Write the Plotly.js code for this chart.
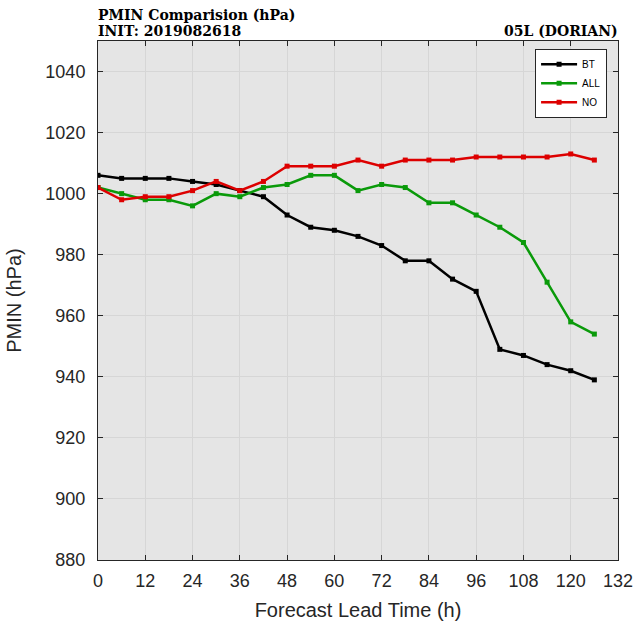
<!DOCTYPE html>
<html>
<head>
<meta charset="utf-8">
<script src="https://cdn.plot.ly/plotly-3.0.1.min.js"></script>
<style>html,body{margin:0;padding:0;background:#fff;}#chart{width:634px;height:627px;}</style>
</head>
<body>
<div id="chart"></div>
<script>
var leadTime = [0,6,12,18,24,30,36,42,48,54,60,66,72,78,84,90,96,102,108,114,120,126];
var bt  = [1006,1005,1005,1005,1004,1003,1001,999,993,989,988,986,983,978,978,972,968,949,947,944,942,939];
var all = [1002,1000,998,998,996,1000,999,1002,1003,1006,1006,1001,1003,1002,997,997,993,989,984,971,958,954];
var no  = [1002,998,999,999,1001,1004,1001,1004,1009,1009,1009,1011,1009,1011,1011,1011,1012,1012,1012,1012,1013,1011];
var seriesNames = ["BT","ALL","NO"];
var xTicks = [0,12,24,36,48,60,72,84,96,108,120,132];
var yTicks = [880,900,920,940,960,980,1000,1020,1040];

function tr(y, name, color){
  return {x: leadTime, y: y, name: name, type: 'scatter', mode: 'lines+markers',
    line: {color: color, width: 2.5}, marker: {color: color, size: 5, symbol: 'square'}};
}
var data = [tr(bt, seriesNames[0], '#000000'), tr(all, seriesNames[1], '#0a9a0a'), tr(no, seriesNames[2], '#dd0000')];

var sans = 'Liberation Sans, Arial, sans-serif';
var serif = 'DejaVu Serif, Liberation Serif, serif';
var axisFont = {family: sans, size: 18, color: '#262626'};
var layout = {
  width: 634, height: 627,
  margin: {l: 98, r: 16, t: 41, b: 67},
  paper_bgcolor: '#ffffff', plot_bgcolor: '#e5e5e5',
  showlegend: true,
  legend: {x: 0.979, xanchor: 'right', y: 0.985, yanchor: 'top', bgcolor: '#ffffff', bordercolor: '#262626', borderwidth: 1,
    font: {family: sans, size: 10, color: '#000'}, tracegroupgap: 0, itemwidth: 36},
  xaxis: {range: [0,132], tickvals: xTicks, ticktext: xTicks.map(String), ticks: 'inside', ticklen: 5, tickcolor: '#262626',
    showline: true, linecolor: '#262626', linewidth: 1, mirror: 'ticks', showgrid: true, gridcolor: '#d6d6d6', gridwidth: 1,
    zeroline: false, tickfont: axisFont, ticklabelstandoff: 4,
    title: {text: 'Forecast Lead Time (h)', font: {family: sans, size: 20, color: '#262626'}, standoff: 13}},
  yaxis: {range: [880,1050], tickvals: yTicks, ticktext: yTicks.map(String), ticks: 'inside', ticklen: 5, tickcolor: '#262626',
    showline: true, linecolor: '#262626', linewidth: 1, mirror: 'ticks', showgrid: true, gridcolor: '#d6d6d6', gridwidth: 1,
    zeroline: false, tickfont: axisFont, ticklabelstandoff: 8,
    title: {text: 'PMIN (hPa)', font: {family: sans, size: 20, color: '#262626'}, standoff: 18}},
  annotations: [
    {text: '<b>PMIN Comparision (hPa)</b>', xref: 'paper', yref: 'paper', x: 0, y: 1, xanchor: 'left', yanchor: 'bottom', yshift: 16, xshift: -2,
     showarrow: false, font: {family: serif, size: 14, color: '#000'}},
    {text: '<b>INIT: 2019082618</b>', xref: 'paper', yref: 'paper', x: 0, y: 1, xanchor: 'left', yanchor: 'bottom', yshift: 0, xshift: -2,
     showarrow: false, font: {family: serif, size: 14, color: '#000'}},
    {text: '<b>05L (DORIAN)</b>', xref: 'paper', yref: 'paper', x: 1, y: 1, xanchor: 'right', yanchor: 'bottom', yshift: 0, xshift: 2,
     showarrow: false, font: {family: serif, size: 14, color: '#000'}}
  ]
};
Plotly.newPlot('chart', data, layout, {displayModeBar: false, staticPlot: true});
</script>
</body>
</html>
